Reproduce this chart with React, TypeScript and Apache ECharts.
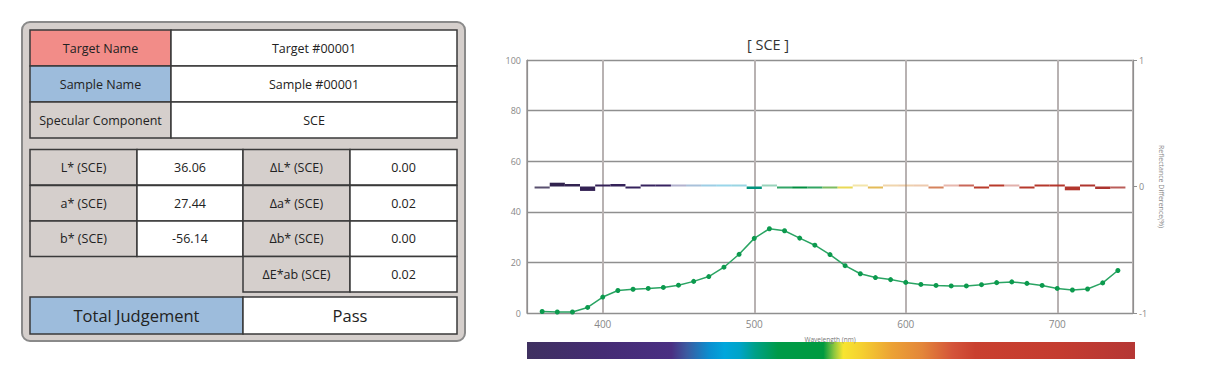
import React, { useEffect, useRef } from 'react';
import * as echarts from 'echarts';

// ---------- data ----------
const wavelengths = [360, 370, 380, 390, 400, 410, 420, 430, 440, 450, 460, 470, 480, 490, 500, 510, 520, 530, 540, 550, 560, 570, 580, 590, 600, 610, 620, 630, 640, 650, 660, 670, 680, 690, 700, 710, 720, 730, 740];
const reflectance = [0.6, 0.4, 0.4, 2.2, 6.3, 8.9, 9.4, 9.7, 10.1, 11.0, 12.5, 14.4, 18.1, 23.2, 29.5, 33.3, 32.5, 29.6, 26.8, 23.1, 18.7, 15.5, 14.0, 13.2, 12.1, 11.3, 10.9, 10.7, 10.7, 11.2, 12.0, 12.3, 11.7, 10.9, 9.7, 9.1, 9.5, 11.9, 16.8];
const reflectanceDiff = [-0.005, 0.03, 0.02, -0.035, 0.01, 0.02, -0.01, 0.01, 0.01, 0.003, 0.003, 0.003, 0.003, 0.002, -0.02, 0.002, -0.008, -0.01, -0.005, -0.005, -0.008, 0.002, -0.005, 0.002, 0.002, 0.002, -0.005, 0.002, 0.005, -0.01, 0.01, 0.003, -0.015, 0.01, 0.015, -0.03, 0.01, -0.02, -0.005];

const chartTitle = '[ SCE ]';
const xAxisName = 'Wavelength (nm)';
const rightAxisName = 'Reflectance Difference(%)';

const headerLabels = ['Target Name', 'Sample Name', 'Specular Component'];
const headerValues = ['Target #00001', 'Sample #00001', 'SCE'];
const colorLabels = ['L* (SCE)', 'a* (SCE)', 'b* (SCE)'];
const colorValues = ['36.06', '27.44', '-56.14'];
const diffLabels = ['ΔL* (SCE)', 'Δa* (SCE)', 'Δb* (SCE)', 'ΔE*ab (SCE)'];
const diffValues = ['0.00', '0.02', '0.00', '0.02'];
const judgementLabel = 'Total Judgement';
const judgementValue = 'Pass';

// spectrum colour stops (nm, colour)
const spectrumStops: [number, string][] = [
  [350, '#3f3160'], [400, '#452c74'], [445, '#4a2f82'], [455, '#3c5aa0'], [470, '#0a8fd0'],
  [480, '#00a6dc'], [490, '#00a4c8'], [500, '#00a088'], [515, '#009a48'], [545, '#009a40'],
  [552, '#8cc63f'], [558, '#f7e530'], [570, '#f5d030'], [590, '#eca235'], [610, '#e3863a'],
  [630, '#d4543a'], [645, '#c9402f'], [700, '#c43c30'], [750, '#b53735'],
];

// ---------- helpers ----------
const hex = (c: string) => [1, 3, 5].map((i) => parseInt(c.slice(i, i + 2), 16));
function spectrumColor(nm: number, dark = 0): string {
  let a = spectrumStops[0], b = spectrumStops[spectrumStops.length - 1];
  for (let i = 0; i < spectrumStops.length - 1; i++) {
    if (nm >= spectrumStops[i][0] && nm <= spectrumStops[i + 1][0]) { a = spectrumStops[i]; b = spectrumStops[i + 1]; break; }
  }
  const t = b[0] === a[0] ? 0 : (nm - a[0]) / (b[0] - a[0]);
  const ca = hex(a[1]), cb = hex(b[1]);
  const c = ca.map((v, i) => Math.round((v + (cb[i] - v) * t) * (1 - dark)));
  return `rgb(${c[0]},${c[1]},${c[2]})`;
}

const FONT = "'Open Sans', 'Noto Sans', sans-serif";
const BORDER = '#3a3a3a';
const GRAYCELL = '#d5cfcc';
const BLUE = '#9dbcdc';
const PINK = '#f28c88';

function cell(x: number, y: number, w: number, h: number, fill: string, text: string, size = 12.5) {
  return {
    type: 'group',
    children: [
      { type: 'rect', shape: { x, y, width: w, height: h }, style: { fill, stroke: BORDER, lineWidth: 1.5 } },
      {
        type: 'text', x: x + w / 2, y: y + h / 2,
        style: { text, fill: '#222', font: `${size}px ${FONT}`, align: 'center', verticalAlign: 'middle' },
      },
    ],
  };
}

function tableGraphics() {
  const g: any[] = [];
  g.push({ type: 'rect', shape: { x: 22, y: 22, width: 443, height: 319, r: 8 }, style: { fill: GRAYCELL, stroke: '#8a8a8a', lineWidth: 2 } });
  const hdrFill = [PINK, BLUE, GRAYCELL];
  const rowsY = [30, 66, 102];
  headerLabels.forEach((lab, i) => {
    g.push(cell(30, rowsY[i], 141, 36, hdrFill[i], lab));
    g.push(cell(171, rowsY[i], 286, 36, '#ffffff', headerValues[i]));
  });
  const lowY = [149.5, 185.5, 221, 256.5];
  const h = 35.5;
  colorLabels.forEach((lab, i) => {
    g.push(cell(30, lowY[i], 107, h, GRAYCELL, lab));
    g.push(cell(137, lowY[i], 106, h, '#ffffff', colorValues[i]));
  });
  diffLabels.forEach((lab, i) => {
    g.push(cell(243, lowY[i], 107, h, GRAYCELL, lab));
    g.push(cell(350, lowY[i], 107, h, '#ffffff', diffValues[i]));
  });
  g.push(cell(30, 297, 213, 37, BLUE, judgementLabel, 16.5));
  g.push(cell(243, 297, 214, 37, '#ffffff', judgementValue, 16.5));
  return g;
}

// chart layout (in the chart div's own coordinates); the div starts at page x = OX
const OX = 495;
const GL = 527 - OX, GT = 60, GB = 75, CW = 1229 - OX, CH = 388, GR = CW - (1133 - OX);

export default function App() {
  const tableRef = useRef<HTMLDivElement>(null);
  const chartRef = useRef<HTMLDivElement>(null);

  useEffect(() => {
    const t = echarts.init(tableRef.current!, null, { renderer: 'svg' });
    t.setOption({ animation: false, graphic: { elements: tableGraphics() } });

    const c = echarts.init(chartRef.current!, null, { renderer: 'svg' });
    const lineData = wavelengths.map((w, i) => [w, reflectance[i]]);
    const diffData = wavelengths.map((w, i) => [w, reflectanceDiff[i]]);
    const plotW = CW - GL - GR;
    const barStops = spectrumStops.map(([nm, col]) => ({ offset: (nm - 350) / 400, color: col }));

    c.setOption({
      animation: false,
      grid: { left: GL, right: GR, top: GT, bottom: GB, containLabel: false, outerBoundsMode: 'none' },
      graphic: {
        elements: [
          {
            type: 'text', x: 768 - OX, y: 44,
            style: { text: chartTitle, fill: '#333', font: `14.5px ${FONT}`, align: 'center', verticalAlign: 'middle' },
          },
          {
            type: 'rect', shape: { x: GL, y: 342, width: plotW + 2, height: 17 },
            style: { fill: { type: 'linear', x: 0, y: 0, x2: 1, y2: 0, colorStops: barStops } },
          },
        ],
      },
      xAxis: {
        type: 'value', min: 350, max: 750, splitNumber: 4,
        name: xAxisName, nameLocation: 'middle', nameGap: 23,
        nameTextStyle: { fontSize: 6.5, color: '#777', fontFamily: FONT },
        axisLine: { show: true, lineStyle: { color: '#8f8f8f', width: 1.2 } },
        axisTick: { show: false },
        axisLabel: { showMinLabel: false, showMaxLabel: false, color: '#888', fontSize: 10, margin: 6, fontFamily: FONT },
        splitLine: { show: true, lineStyle: { color: '#b8b2b2', width: 2 } },
      },
      yAxis: [
        {
          type: 'value', min: 0, max: 100, interval: 20, position: 'left',
          axisLine: { show: true, lineStyle: { color: '#8f8f8f', width: 1.2 } },
          axisTick: { show: false },
          axisLabel: { color: '#888', fontSize: 9, margin: 6, fontFamily: FONT },
          splitLine: { show: true, lineStyle: { color: '#8f8f8f', width: 1.3 } },
        },
        {
          type: 'value', min: -1, max: 1, interval: 1, position: 'right',
          name: rightAxisName, nameLocation: 'middle', nameGap: 20, nameRotate: -90,
          nameTextStyle: { fontSize: 7, color: '#888', fontFamily: FONT },
          axisLine: { show: true, lineStyle: { color: '#8f8f8f', width: 1.2 } },
          axisTick: { show: true, length: 4, lineStyle: { color: '#8f8f8f' } },
          axisLabel: { color: '#888', fontSize: 9, margin: 6, fontFamily: FONT },
          splitLine: { show: false },
        },
      ],
      series: [
        {
          type: 'custom', xAxisIndex: 0, yAxisIndex: 1, data: diffData,
          encode: { x: 0, y: 1 },
          renderItem: (params: any, api: any) => {
            const nm = api.value(0);
            const v = api.value(1);
            const p0 = api.coord([nm - 5, 0]);
            const p1 = api.coord([nm + 5, v]);
            let top = Math.min(p0[1], p1[1]);
            let h = Math.abs(p1[1] - p0[1]);
            if (h < 2) { h = 2; top = v >= 0 ? p0[1] - 2 : p0[1]; }
            const a = Math.abs(v);
            const opacity = a < 0.004 ? 0.4 : a < 0.009 ? 0.8 : 1;
            return {
              type: 'rect',
              shape: { x: p0[0], y: top, width: p1[0] - p0[0], height: h },
              style: { fill: spectrumColor(nm, nm < 450 ? 0.25 : 0.08), opacity },
            };
          },
          z: 3,
        },
        {
          type: 'line', xAxisIndex: 0, yAxisIndex: 0, data: lineData,
          symbol: 'circle', symbolSize: 5, showSymbol: true,
          lineStyle: { color: '#2aa463', width: 1.5 },
          itemStyle: { color: '#0c9a4e' },
          z: 4,
        },
      ],
    });

    return () => { t.dispose(); c.dispose(); };
  }, []);

  return (
    <div style={{ position: 'fixed', left: 0, top: 0, width: 1229, height: 388, background: '#fff', overflow: 'hidden' }}>
      <div ref={tableRef} style={{ position: 'absolute', left: 0, top: 0, width: 500, height: 388 }} />
      <div ref={chartRef} style={{ position: 'absolute', left: OX, top: 0, width: CW, height: CH }} />
    </div>
  );
}
